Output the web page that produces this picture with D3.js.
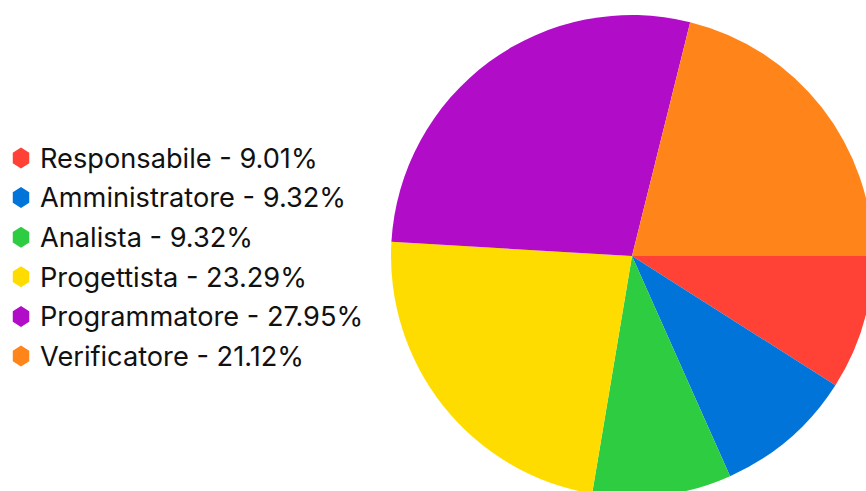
<!DOCTYPE html>
<html><head><meta charset="utf-8">
<script src="https://cdn.jsdelivr.net/npm/d3@7"></script>
<style>body{margin:0;background:#fff;overflow:hidden}</style>
</head><body>
<svg id="c" width="866" height="491"></svg>
<script>
const categories = ["Responsabile","Amministratore","Analista","Progettista","Programmatore","Verificatore"];
const values = [9.01, 9.32, 9.32, 23.29, 27.95, 21.12];
const colors = ["#FF4136","#0074D9","#2ECC40","#FFDC00","#B10DC9","#FF851B"];

const svg = d3.select("#c");
const cx = 632, cy = 256, r = 241;
const pie = d3.pie().sort(null).startAngle(Math.PI/2).endAngle(Math.PI/2 + 2*Math.PI)(values);
const arc = d3.arc().innerRadius(0).outerRadius(r);
svg.append("g").attr("transform",`translate(${cx},${cy})`)
  .selectAll("path").data(pie).join("path")
  .attr("d",arc).attr("fill",(d,i)=>colors[i]);

const hex = d3.line()(d3.range(6).map(k=>{const a=Math.PI/3*k; return [9.5*Math.sin(a), -10.5*Math.cos(a)];}).concat([[0,-10.5]]));
const lg = svg.append("g").selectAll("g").data(categories).join("g")
  .attr("transform",(d,i)=>`translate(21,${158 + i*39.6})`);
lg.append("path").attr("d",hex+"Z").attr("fill",(d,i)=>colors[i]);
lg.append("text").attr("x",19).attr("dy","0.36em")
  .attr("font-family","Inter, sans-serif").attr("font-size",27.2).attr("fill","#111")
  .text((d,i)=>`${d} - ${values[i].toFixed(2)}%`);
</script>
</body></html>
